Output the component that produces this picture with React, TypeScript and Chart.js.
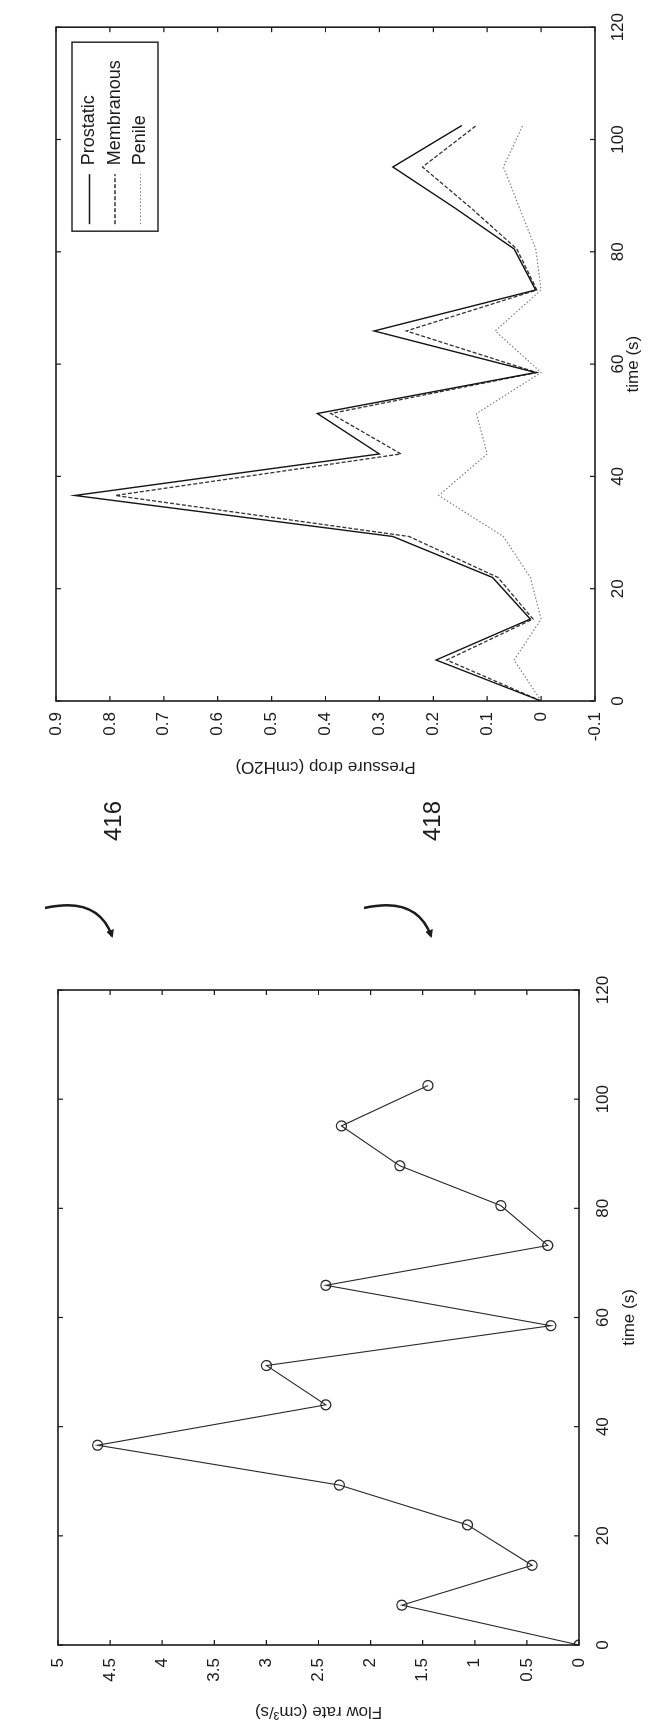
import React, { useEffect, useRef } from "react";
import { Chart, registerables } from "chart.js";

Chart.register(...registerables);

// ---- data ----
const timeS = [0, 7.3, 14.6, 22, 29.3, 36.6, 44, 51.2, 58.5, 65.9, 73.2, 80.5, 87.8, 95.1, 102.5];
const prostatic = [0, 0.195, 0.02, 0.09, 0.275, 0.865, 0.3, 0.415, 0.01, 0.31, 0.01, 0.05, 0.16, 0.275, 0.147];
const membranous = [0, 0.175, 0.015, 0.08, 0.245, 0.79, 0.26, 0.39, 0.008, 0.25, 0.008, 0.045, 0.13, 0.22, 0.12];
const penile = [0, 0.05, 0.0, 0.02, 0.07, 0.19, 0.1, 0.12, 0.0, 0.085, 0.0, 0.01, 0.04, 0.07, 0.034];
const flowRate = [0, 1.7, 0.45, 1.07, 2.3, 4.62, 2.43, 3.0, 0.27, 2.43, 0.3, 0.75, 1.72, 2.28, 1.45];

const pressureTicks = { min: -0.1, max: 0.9, step: 0.1 };
const flowTicks = { min: 0, max: 5, step: 0.5 };
const timeTicks = { min: 0, max: 120, step: 20 };

const seriesNames = ["Prostatic", "Membranous", "Penile"];

const FONT = '"Liberation Sans", Arial, Helvetica, sans-serif';
const INK = "#1c1c1c";

const pts = (xs: number[], ys: number[]) => xs.map((x, i) => ({ x, y: ys[i] }));
const fmt = (v: any) => String(Math.round(Number(v) * 10) / 10);

// frame box with inward ticks on all four sides (MATLAB style)
const framePlugin = {
  id: "mlFrame",
  afterDatasetsDraw(chart: any) {
    const { ctx, chartArea: ca, scales } = chart;
    ctx.save();
    ctx.strokeStyle = INK;
    ctx.lineWidth = 1.6;
    ctx.setLineDash([]);
    ctx.strokeRect(ca.left, ca.top, ca.right - ca.left, ca.bottom - ca.top);
    ctx.lineWidth = 1.2;
    const tl = 5;
    scales.x.ticks.forEach((t: any) => {
      const px = scales.x.getPixelForValue(t.value);
      ctx.beginPath();
      ctx.moveTo(px, ca.bottom);
      ctx.lineTo(px, ca.bottom - tl);
      ctx.moveTo(px, ca.top);
      ctx.lineTo(px, ca.top + tl);
      ctx.stroke();
    });
    scales.y.ticks.forEach((t: any) => {
      const py = scales.y.getPixelForValue(t.value);
      ctx.beginPath();
      ctx.moveTo(ca.left, py);
      ctx.lineTo(ca.left + tl, py);
      ctx.moveTo(ca.right, py);
      ctx.lineTo(ca.right - tl, py);
      ctx.stroke();
    });
    ctx.restore();
  },
};

// MATLAB-style legend box inside the plot, top-right corner
const legendPlugin = {
  id: "mlLegend",
  afterDraw(chart: any) {
    const { ctx, chartArea: ca } = chart;
    const w = 189;
    const h = 86;
    const x0 = ca.right - 15 - w;
    const y0 = ca.top + 16;
    ctx.save();
    ctx.fillStyle = "#fff";
    ctx.fillRect(x0, y0, w, h);
    ctx.strokeStyle = INK;
    ctx.lineWidth = 1.4;
    ctx.setLineDash([]);
    ctx.strokeRect(x0, y0, w, h);
    chart.data.datasets.forEach((ds: any, i: number) => {
      const cy = y0 + 17.5 + i * 25.5;
      ctx.setLineDash(ds.borderDash || []);
      ctx.strokeStyle = ds.borderColor;
      ctx.lineWidth = ds.borderWidth;
      ctx.beginPath();
      ctx.moveTo(x0 + 7, cy);
      ctx.lineTo(x0 + 57, cy);
      ctx.stroke();
      ctx.setLineDash([]);
      ctx.fillStyle = INK;
      ctx.font = `18px ${FONT}`;
      ctx.textBaseline = "middle";
      ctx.textAlign = "left";
      ctx.fillText(ds.label, x0 + 66, cy);
    });
    ctx.restore();
  },
};

function axisX(title: string, height: number, tickPad: number, titlePad: number) {
  return {
    type: "linear",
    position: "bottom",
    min: timeTicks.min,
    max: timeTicks.max,
    ticks: { stepSize: timeTicks.step, color: INK, font: { family: FONT, size: 17 }, padding: tickPad, maxRotation: 0, callback: fmt },
    grid: { display: false, drawTicks: false },
    border: { display: false },
    title: { display: true, text: title, color: INK, font: { family: FONT, size: 17 }, padding: { top: 0, bottom: titlePad } },
    afterFit: (s: any) => {
      s.height = height;
    },
  };
}

function axisY(title: string, t: any, width: number, tickPad: number, titlePad: number) {
  return {
    type: "linear",
    position: "left",
    min: t.min,
    max: t.max,
    ticks: { stepSize: t.step, color: INK, font: { family: FONT, size: 17 }, padding: tickPad, callback: fmt },
    grid: { display: false, drawTicks: false },
    border: { display: false },
    title: { display: true, text: title, color: INK, font: { family: FONT, size: 17 }, padding: { top: titlePad, bottom: 0 } },
    afterFit: (s: any) => {
      s.width = width;
    },
  };
}

function pressureConfig(): any {
  return {
    type: "line",
    data: {
      datasets: [
        { label: seriesNames[0], data: pts(timeS, prostatic), borderColor: "#151515", borderWidth: 1.4, pointRadius: 0, tension: 0 },
        { label: seriesNames[1], data: pts(timeS, membranous), borderColor: "#333", borderWidth: 1.3, borderDash: [4, 2], pointRadius: 0, tension: 0 },
        { label: seriesNames[2], data: pts(timeS, penile), borderColor: "#808080", borderWidth: 1.2, borderDash: [1.5, 2], pointRadius: 0, tension: 0 },
      ],
    },
    options: {
      animation: false,
      responsive: false,
      maintainAspectRatio: false,
      devicePixelRatio: 1,
      layout: { padding: { top: 36, right: 27, left: 0, bottom: 0 } },
      plugins: { legend: { display: false }, tooltip: { enabled: false } },
      scales: {
        x: axisX("time (s)", 65, 13, 16),
        y: axisY("Pressure drop (cmH2O)", pressureTicks, 99, 11, 23),
      },
    },
    plugins: [framePlugin, legendPlugin],
  };
}

function flowConfig(): any {
  return {
    type: "line",
    data: {
      datasets: [
        {
          label: "Flow rate",
          data: pts(timeS, flowRate),
          borderColor: "#2a2a2a",
          borderWidth: 1.1,
          pointRadius: 5,
          pointStyle: "circle",
          pointBorderColor: "#2a2a2a",
          pointBackgroundColor: "rgba(0,0,0,0)",
          pointBorderWidth: 1.3,
          tension: 0,
        },
      ],
    },
    options: {
      animation: false,
      responsive: false,
      maintainAspectRatio: false,
      devicePixelRatio: 1,
      layout: { padding: { top: 38, right: 41, left: 0, bottom: 0 } },
      plugins: { legend: { display: false }, tooltip: { enabled: false } },
      scales: {
        x: axisX("time (s)", 81, 14, 20),
        y: axisY("Flow rate (cm\u00B3/s)", flowTicks, 82, 13, 5),
      },
    },
    plugins: [framePlugin],
  };
}

function RotChart({ left, top, width, height, makeConfig }: any) {
  const ref = useRef<HTMLCanvasElement | null>(null);
  useEffect(() => {
    if (!ref.current) return;
    const chart = new Chart(ref.current, makeConfig());
    return () => chart.destroy();
  }, []);
  return (
    <div
      style={{
        position: "absolute",
        left,
        top,
        width,
        height,
        transform: "rotate(-90deg)",
        transformOrigin: "center center",
      }}
    >
      <canvas ref={ref} width={width} height={height} style={{ display: "block", width, height }} />
    </div>
  );
}

function RefLabel({ x, y, text }: any) {
  return (
    <div
      style={{
        position: "absolute",
        left: x - 40,
        top: y - 15,
        width: 80,
        height: 30,
        lineHeight: "30px",
        textAlign: "center",
        fontFamily: FONT,
        fontSize: 24,
        color: INK,
        transform: "rotate(-90deg)",
      }}
    >
      {text}
    </div>
  );
}

export default function App() {
  return (
    <div style={{ position: "absolute", left: 0, top: 0, width: 660, height: 1727, overflow: "hidden", background: "#fff" }}>
      <RotChart left={-60} top={80} width={800} height={640} makeConfig={pressureConfig} />
      <RotChart left={-49} top={1018} width={778} height={640} makeConfig={flowConfig} />
      <RefLabel x={113} y={821} text="416" />
      <RefLabel x={432} y={821} text="418" />
      <svg width={660} height={1727} style={{ position: "absolute", left: 0, top: 0, pointerEvents: "none" }}>
        <defs>
          <marker id="ah" markerWidth="8" markerHeight="8" refX="6" refY="4" orient="auto" markerUnits="userSpaceOnUse">
            <path d="M0,0 L8,4 L0,8 Z" fill={INK} />
          </marker>
        </defs>
        <path d="M 45 908 Q 98 896 112 936" stroke={INK} strokeWidth={2.5} fill="none" markerEnd="url(#ah)" />
        <path d="M 364 908 Q 417 896 431 936" stroke={INK} strokeWidth={2.5} fill="none" markerEnd="url(#ah)" />
      </svg>
    </div>
  );
}
